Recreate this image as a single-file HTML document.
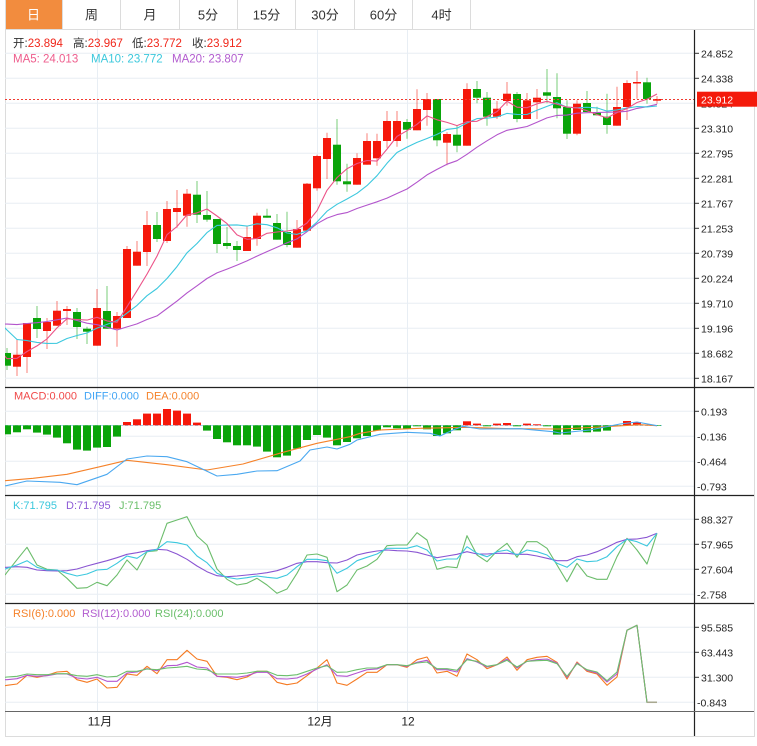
<!DOCTYPE html>
<html><head><meta charset="utf-8"><style>
html,body{margin:0;padding:0;background:#fff;}
svg{display:block;font-family:"Liberation Sans","Noto Sans CJK SC",sans-serif;}
</style></head><body>
<svg width="757" height="746" viewBox="0 0 757 746" xmlns="http://www.w3.org/2000/svg">
<defs><clipPath id="pc"><rect x="5" y="30" width="690" height="682"/></clipPath></defs>
<rect x="0" y="0" width="757" height="746" fill="#fff"/>
<!-- tabs -->
<rect x="5" y="0" width="57" height="29" fill="#f28c3e"/>
<g stroke="#dcdcdc" stroke-width="1">
<line x1="62.5" y1="0" x2="62.5" y2="29"/><line x1="120.5" y1="0" x2="120.5" y2="29"/><line x1="179.5" y1="0" x2="179.5" y2="29"/><line x1="237.5" y1="0" x2="237.5" y2="29"/><line x1="295.5" y1="0" x2="295.5" y2="29"/><line x1="354.5" y1="0" x2="354.5" y2="29"/><line x1="412.5" y1="0" x2="412.5" y2="29"/><line x1="470.5" y1="0" x2="470.5" y2="29"/>
<line x1="5" y1="29.5" x2="754" y2="29.5"/>
<line x1="5.5" y1="0" x2="5.5" y2="736"/><line x1="754.5" y1="0" x2="754.5" y2="736"/><line x1="5" y1="736.5" x2="755" y2="736.5"/>
</g>
<g font-size="13" text-anchor="middle" fill="#333">
<text x="33.5" y="19.5" fill="#fff">日</text><text x="91.5" y="19.5">周</text><text x="150" y="19.5">月</text><text x="208" y="19.5">5分</text><text x="266.5" y="19.5">15分</text><text x="325" y="19.5">30分</text><text x="383.5" y="19.5">60分</text><text x="441.5" y="19.5">4时</text>
</g>
<!-- grid -->
<g stroke="#e8eef4" stroke-width="1">
<line x1="5" y1="53.3" x2="695" y2="53.3"/><line x1="5" y1="78.3" x2="695" y2="78.3"/><line x1="5" y1="103.3" x2="695" y2="103.3"/><line x1="5" y1="128.3" x2="695" y2="128.3"/><line x1="5" y1="153.3" x2="695" y2="153.3"/><line x1="5" y1="178.3" x2="695" y2="178.3"/><line x1="5" y1="203.3" x2="695" y2="203.3"/><line x1="5" y1="228.3" x2="695" y2="228.3"/><line x1="5" y1="253.3" x2="695" y2="253.3"/><line x1="5" y1="278.3" x2="695" y2="278.3"/><line x1="5" y1="303.3" x2="695" y2="303.3"/><line x1="5" y1="328.3" x2="695" y2="328.3"/><line x1="5" y1="353.3" x2="695" y2="353.3"/><line x1="5" y1="378.3" x2="695" y2="378.3"/>
<line x1="5" y1="411.3" x2="695" y2="411.3"/><line x1="5" y1="436.3" x2="695" y2="436.3"/><line x1="5" y1="461.3" x2="695" y2="461.3"/><line x1="5" y1="486.3" x2="695" y2="486.3"/>
<line x1="5" y1="519.3" x2="695" y2="519.3"/><line x1="5" y1="544.3" x2="695" y2="544.3"/><line x1="5" y1="569.3" x2="695" y2="569.3"/><line x1="5" y1="594.3" x2="695" y2="594.3"/>
<line x1="5" y1="627.3" x2="695" y2="627.3"/><line x1="5" y1="652.3" x2="695" y2="652.3"/><line x1="5" y1="677.3" x2="695" y2="677.3"/><line x1="5" y1="702.3" x2="695" y2="702.3"/>
<line x1="97.5" y1="30" x2="97.5" y2="711"/><line x1="317.5" y1="30" x2="317.5" y2="711"/><line x1="407.5" y1="30" x2="407.5" y2="711"/>
</g>
<g clip-path="url(#pc)">
<!-- candles red -->
<g stroke="#f5180b" stroke-opacity="0.55" stroke-width="1">
<line x1="17" y1="339" x2="17" y2="376"/><line x1="27" y1="323" x2="27" y2="373"/><line x1="47" y1="318" x2="47" y2="349"/><line x1="57" y1="301" x2="57" y2="326"/><line x1="67" y1="306" x2="67" y2="325"/><line x1="97" y1="289" x2="97" y2="345.7"/><line x1="117" y1="312" x2="117" y2="346.7"/><line x1="127" y1="246" x2="127" y2="318"/><line x1="137" y1="241" x2="137" y2="265.7"/><line x1="147" y1="211" x2="147" y2="266"/><line x1="167" y1="201" x2="167" y2="243"/><line x1="177" y1="190" x2="177" y2="227.7"/><line x1="187" y1="189" x2="187" y2="226.7"/><line x1="247" y1="226" x2="247" y2="251"/><line x1="257" y1="212.7" x2="257" y2="245.7"/><line x1="297" y1="220" x2="297" y2="247.7"/><line x1="307" y1="183" x2="307" y2="230.7"/><line x1="317" y1="154.7" x2="317" y2="190.7"/><line x1="327" y1="132.7" x2="327" y2="179"/><line x1="357" y1="153.3" x2="357" y2="184.7"/><line x1="367" y1="133.3" x2="367" y2="164.7"/><line x1="377" y1="133.7" x2="377" y2="165.7"/><line x1="387" y1="111" x2="387" y2="147.7"/><line x1="397" y1="111" x2="397" y2="146.7"/><line x1="417" y1="89.3" x2="417" y2="130.3"/><line x1="427" y1="93" x2="427" y2="125.7"/><line x1="447" y1="132.3" x2="447" y2="165.3"/><line x1="467" y1="83.3" x2="467" y2="145.7"/><line x1="497" y1="101" x2="497" y2="119"/><line x1="507" y1="82" x2="507" y2="105.7"/><line x1="527" y1="93" x2="527" y2="119"/><line x1="537" y1="89" x2="537" y2="119"/><line x1="577" y1="100.3" x2="577" y2="135.3"/><line x1="617" y1="86.7" x2="617" y2="125.7"/><line x1="627" y1="80.3" x2="627" y2="120"/><line x1="637" y1="71" x2="637" y2="98.7"/><line x1="657" y1="96" x2="657" y2="103.7"/>
</g>
<g fill="#f5180b">
<rect x="13" y="354.7" width="8" height="12"/><rect x="23" y="323" width="8" height="34"/><rect x="43" y="322" width="8" height="9"/><rect x="53" y="310.7" width="8" height="15"/><rect x="63" y="309" width="8" height="2"/><rect x="93" y="308" width="8" height="37.7"/><rect x="113" y="316" width="8" height="12.7"/><rect x="123" y="249" width="8" height="69"/><rect x="133" y="251.7" width="8" height="14"/><rect x="143" y="225" width="8" height="27"/><rect x="163" y="209" width="8" height="32"/><rect x="173" y="208" width="8" height="4"/><rect x="183" y="193.7" width="8" height="22"/><rect x="243" y="237" width="8" height="14"/><rect x="253" y="215.7" width="8" height="23.3"/><rect x="293" y="229" width="8" height="18.7"/><rect x="303" y="183.7" width="8" height="47"/><rect x="313" y="156" width="8" height="32.3"/><rect x="323" y="138" width="8" height="21"/><rect x="353" y="158" width="8" height="26.7"/><rect x="363" y="141" width="8" height="23.7"/><rect x="373" y="141" width="8" height="17.3"/><rect x="383" y="121" width="8" height="20"/><rect x="393" y="121" width="8" height="20"/><rect x="413" y="109" width="8" height="21.3"/><rect x="423" y="99" width="8" height="11"/><rect x="443" y="134" width="8" height="8.7"/><rect x="463" y="89" width="8" height="56.7"/><rect x="493" y="108.7" width="8" height="8"/><rect x="503" y="93.7" width="8" height="7.3"/><rect x="523" y="100.3" width="8" height="18.7"/><rect x="533" y="97.7" width="8" height="4.6"/><rect x="573" y="103.7" width="8" height="30"/><rect x="613" y="107" width="8" height="18.7"/><rect x="623" y="83" width="8" height="24"/><rect x="633" y="82" width="8" height="1.5"/><rect x="653" y="99" width="8" height="1.7"/>
</g>
<!-- candles green -->
<g stroke="#0aa40a" stroke-opacity="0.55" stroke-width="1">
<line x1="7" y1="348" x2="7" y2="370"/><line x1="37" y1="306" x2="37" y2="338"/><line x1="77" y1="308" x2="77" y2="339"/><line x1="87" y1="326.7" x2="87" y2="344"/><line x1="107" y1="286" x2="107" y2="328.7"/><line x1="157" y1="212" x2="157" y2="242"/><line x1="197" y1="181" x2="197" y2="223"/><line x1="207" y1="191" x2="207" y2="221.7"/><line x1="217" y1="219" x2="217" y2="253"/><line x1="227" y1="227" x2="227" y2="249"/><line x1="237" y1="241" x2="237" y2="261"/><line x1="267" y1="208.7" x2="267" y2="217.7"/><line x1="277" y1="214" x2="277" y2="239.7"/><line x1="287" y1="211.7" x2="287" y2="247.3"/><line x1="337" y1="119" x2="337" y2="184.7"/><line x1="347" y1="163.7" x2="347" y2="191.7"/><line x1="407" y1="119" x2="407" y2="138.7"/><line x1="437" y1="99" x2="437" y2="146.3"/><line x1="457" y1="125.7" x2="457" y2="152.3"/><line x1="477" y1="81" x2="477" y2="103.3"/><line x1="487" y1="92" x2="487" y2="125.7"/><line x1="517" y1="92" x2="517" y2="122.3"/><line x1="547" y1="69" x2="547" y2="103.3"/><line x1="557" y1="73.3" x2="557" y2="118.3"/><line x1="567" y1="100.3" x2="567" y2="139"/><line x1="587" y1="91" x2="587" y2="112"/><line x1="597" y1="106.7" x2="597" y2="115.3"/><line x1="607" y1="93.7" x2="607" y2="133.7"/><line x1="647" y1="77.7" x2="647" y2="103.7"/>
</g>
<g fill="#0aa40a">
<rect x="3" y="353" width="8" height="12.7"/><rect x="33" y="318" width="8" height="11"/><rect x="73" y="312" width="8" height="15"/><rect x="83" y="328.7" width="8" height="3"/><rect x="103" y="311" width="8" height="17.7"/><rect x="153" y="225" width="8" height="14"/><rect x="193" y="194.7" width="8" height="20"/><rect x="203" y="215" width="8" height="4.7"/><rect x="213" y="219" width="8" height="25"/><rect x="223" y="243" width="8" height="3"/><rect x="233" y="246" width="8" height="4"/><rect x="263" y="215.7" width="8" height="2"/><rect x="273" y="223" width="8" height="16.7"/><rect x="283" y="232" width="8" height="13"/><rect x="333" y="144.7" width="8" height="36.6"/><rect x="343" y="181.3" width="8" height="3"/><rect x="403" y="122" width="8" height="7.7"/><rect x="433" y="99" width="8" height="41.3"/><rect x="453" y="134.7" width="8" height="11"/><rect x="473" y="89" width="8" height="8.7"/><rect x="483" y="97.7" width="8" height="19"/><rect x="513" y="94" width="8" height="25"/><rect x="543" y="92.3" width="8" height="3.4"/><rect x="553" y="97" width="8" height="11.3"/><rect x="563" y="107" width="8" height="26.7"/><rect x="583" y="103" width="8" height="9"/><rect x="593" y="112" width="8" height="3.3"/><rect x="603" y="116.7" width="8" height="8.3"/><rect x="643" y="82.3" width="8" height="16.7"/>
</g>
<!-- MA lines -->
<g fill="none" stroke-width="1.1" stroke-linejoin="round">
<polyline stroke="#b355cc" points="-2,324.1 7,324.1 17,324.6 27,323.5 37,322.7 47,321.5 57,319.8 67,318 77,320.5 87,323.2 97,324.7 107,327.2 117,330 127,326.9 137,323.9 147,319.5 157,315.9 167,308.5 177,301.1 187,292.9 197,285.8 207,278.5 217,272.9 227,269.1 237,265.1 247,260.9 257,256.1 267,251.6 277,247.2 287,242.9 297,238.9 307,231.7 317,223.7 327,218.1 337,214.6 347,212.6 357,208.5 367,205.1 377,201.8 387,198.1 397,193.5 407,189 417,182.2 427,174.9 437,169.4 447,164.2 457,160.7 467,154.3 477,147.2 487,140.8 497,134.8 507,130.3 517,128.4 527,126.5 537,122.3 547,117.9 557,115.4 567,115.1 577,113.2 587,112.7 597,112.5 607,112.2 617,112.1 627,111.3 637,108.4 647,106.7 657,104.3"/>
<polyline stroke="#3cc8de" points="-2,321.2 7,330 17,339.5 27,340.6 37,342.4 47,343.4 57,343.3 67,338.5 77,335.5 87,333 97,328.1 107,324.4 117,320.5 127,313.1 137,305.4 147,295.7 157,288.5 167,278.5 177,266.6 187,252.8 197,243.5 207,232.6 217,225.4 227,225.1 237,224.9 247,226.1 257,223.8 267,224.7 277,227.8 287,233 297,234.4 307,230.8 317,222 327,211.2 337,204.3 347,199 357,193.3 367,185.6 377,175.7 387,163.3 397,152.5 407,147.1 417,142.4 427,138.5 437,134.4 447,129.4 457,128.2 467,123 477,118.6 487,118.2 497,117 507,113.4 517,114.4 527,114.5 537,110.3 547,106.4 557,102.7 567,107.2 577,107.8 587,107.3 597,107.9 607,111.1 617,109.9 627,108.1 637,106.6 647,106.9 657,106"/>
<polyline stroke="#ec5388" points="-2,347.9 7,358.7 17,358.3 27,351.5 37,345.9 47,338.9 57,327.9 67,318.7 77,319.5 87,320.1 97,317.3 107,320.9 117,322.3 127,306.7 137,290.7 147,274.1 157,256.1 167,234.7 177,226.5 187,214.9 197,212.9 207,209 217,216 227,223.6 237,234.9 247,239.3 257,238.5 267,233.3 277,232 287,231 297,229.4 307,223 317,210.7 327,190.3 337,177.6 347,168.7 357,163.5 367,160.5 377,161.1 387,149.1 397,136.4 407,130.7 417,124.3 427,115.9 437,119.8 447,122.4 457,125.6 467,121.6 477,121.3 487,116.6 497,111.6 507,101.2 517,107.2 527,107.7 537,103.9 547,101.3 557,104.2 567,107.1 577,107.8 587,110.7 597,114.6 607,117.9 617,112.6 627,108.5 637,102.5 647,99.2 657,94"/>
</g>
<line x1="5" y1="99.5" x2="695" y2="99.5" stroke="#f03a30" stroke-width="1" stroke-dasharray="2,2"/>
<!-- MACD -->
<line x1="5" y1="425.5" x2="662" y2="425.5" stroke="#9fd3f0" stroke-width="1" stroke-dasharray="3,2"/>
<g fill="#0aa40a">
<rect x="3" y="425.3" width="8" height="9"/><rect x="13" y="425.3" width="8" height="7"/><rect x="23" y="425.3" width="8" height="4"/><rect x="33" y="425.3" width="8" height="7.3"/><rect x="43" y="425.3" width="8" height="9.3"/><rect x="53" y="425.3" width="8" height="12.3"/><rect x="63" y="425.3" width="8" height="18"/><rect x="73" y="425.3" width="8" height="24.3"/><rect x="83" y="425.3" width="8" height="25.3"/><rect x="93" y="425.3" width="8" height="22.3"/><rect x="103" y="425.3" width="8" height="21.7"/><rect x="113" y="425.3" width="8" height="11.3"/><rect x="203" y="425.3" width="8" height="5.3"/><rect x="213" y="425.3" width="8" height="13.7"/><rect x="223" y="425.3" width="8" height="17"/><rect x="233" y="425.3" width="8" height="20"/><rect x="243" y="425.3" width="8" height="20"/><rect x="253" y="425.3" width="8" height="21.3"/><rect x="263" y="425.3" width="8" height="26.3"/><rect x="273" y="425.3" width="8" height="32"/><rect x="283" y="425.3" width="8" height="30.3"/><rect x="293" y="425.3" width="8" height="23.3"/><rect x="303" y="425.3" width="8" height="14.7"/><rect x="313" y="425.3" width="8" height="9.7"/><rect x="323" y="425.3" width="8" height="12.3"/><rect x="333" y="425.3" width="8" height="20"/><rect x="343" y="425.3" width="8" height="16.7"/><rect x="353" y="425.3" width="8" height="13"/><rect x="363" y="425.3" width="8" height="10.7"/><rect x="373" y="425.3" width="8" height="5.3"/><rect x="383" y="425.3" width="8" height="2"/><rect x="393" y="425.3" width="8" height="3"/><rect x="403" y="425.3" width="8" height="3.3"/><rect x="413" y="425.3" width="8" height="1"/><rect x="423" y="425.3" width="8" height="4"/><rect x="433" y="425.3" width="8" height="10.7"/><rect x="443" y="425.3" width="8" height="8"/><rect x="453" y="425.3" width="8" height="5"/><rect x="483" y="425.3" width="8" height="1"/><rect x="513" y="425.3" width="8" height="1"/><rect x="543" y="425.3" width="8" height="1"/><rect x="553" y="425.3" width="8" height="9.3"/><rect x="563" y="425.3" width="8" height="9.3"/><rect x="573" y="425.3" width="8" height="4.7"/><rect x="583" y="425.3" width="8" height="7"/><rect x="593" y="425.3" width="8" height="6.3"/><rect x="603" y="425.3" width="8" height="5.3"/><rect x="613" y="425.3" width="8" height="0.8"/><rect x="653" y="425.3" width="8" height="0.6"/>
</g>
<g fill="#f5180b">
<rect x="123" y="422" width="8" height="3.3"/><rect x="133" y="419.3" width="8" height="6"/><rect x="143" y="413.6" width="8" height="11.7"/><rect x="153" y="413.6" width="8" height="11.7"/><rect x="163" y="409" width="8" height="16.3"/><rect x="173" y="410.6" width="8" height="14.7"/><rect x="183" y="413.6" width="8" height="11.7"/><rect x="193" y="422.6" width="8" height="2.7"/><rect x="463" y="421.3" width="8" height="4"/><rect x="473" y="423.6" width="8" height="1.7"/><rect x="493" y="423.6" width="8" height="1.7"/><rect x="503" y="423" width="8" height="2.3"/><rect x="523" y="423.6" width="8" height="1.7"/><rect x="533" y="424.3" width="8" height="1"/><rect x="623" y="421" width="8" height="4.3"/><rect x="633" y="422" width="8" height="3.3"/><rect x="643" y="424.6" width="8" height="0.7"/>
</g>
<g fill="none" stroke-width="1.1" stroke-linejoin="round">
<polyline stroke="#f5822a" points="5,480.7 33,478.3 67,474.3 100,466.7 127,460.3 167,464.7 207,470 243,464 283,452.3 317,443.3 350,436.7 360,433.3 380,430 420,428.3 467,427.3 510,428.7 560,429 600,427 640,424.7 657,425.7"/>
<polyline stroke="#4aa8f0" points="5,486 27,481 60,482.3 77,484.7 107,474.3 127,459 147,456 167,456.7 187,461.7 217,476 237,474.3 257,471 277,470.7 300,461 310,450 327,447 337,449 350,444.3 357,440 380,434.3 407,432.3 430,433.3 440,436 453,430 463,426.3 480,429 520,428.7 553,431.7 560,433 590,430 620,424 637,422 657,425.7"/>
</g>
<!-- KDJ -->
<g fill="none" stroke-width="1.1" stroke-linejoin="round">
<polyline stroke="#6cbd6c" points="5,575 7,572.3 17,559.7 27,547.3 37,565 47,569.3 57,570 67,578.3 77,588.3 87,587.7 97,582.3 107,585.7 117,575 127,560 137,570 147,551.7 157,550.7 167,523.3 177,520 187,516.7 197,536 207,545 217,569 227,579.3 237,585 247,583.3 257,578.3 267,585 277,593.3 287,589 297,573.3 307,555 317,554 327,557.3 337,591.7 347,585 357,570 367,566 377,559.3 387,545.7 397,545 407,545 417,532.7 427,540 437,569.3 447,566.7 457,567.7 467,535.7 477,555 487,561.7 497,551 507,543.3 517,557.3 527,541.7 537,541.7 547,548.3 557,565 567,581.7 577,563.3 587,576 597,579.3 607,579.3 617,556.7 627,538.3 637,550 647,564 657,533.3"/>
<polyline stroke="#8a55d2" points="5,567.3 7,567.3 17,566.7 27,567.3 37,570 47,570.7 57,571 67,570.7 77,569 87,566 97,563.3 107,560.7 117,557.7 127,554.3 137,552.7 147,550.7 157,549.3 167,550 177,554 187,559.3 197,566 207,571.7 217,575.7 227,576.7 237,576 247,575 257,574 267,572.7 277,570.7 287,567.3 297,563.3 307,561.7 317,561.7 327,562.7 337,563 347,560 357,555 367,552.7 377,551 387,550 397,550.7 407,551 417,552.3 427,555 437,557.7 447,556 457,554.3 467,551.7 477,554 487,554 497,553.3 507,553.3 517,554.3 527,554.3 537,556 547,558.3 557,560.7 567,560.7 577,556.7 587,555 597,551.7 607,547.3 617,542.3 627,539.3 637,539 647,537.3 657,533.3"/>
<polyline stroke="#3cc8de" points="5,569.3 7,568.3 17,565 27,560.7 37,567.3 47,570 57,570 67,573.3 77,576 87,574 97,570 107,569.3 117,563.3 127,556 137,558.3 147,551.7 157,549.3 167,541.7 177,542.7 187,545 197,556 207,562.7 217,573.3 227,577.3 237,579 247,577.7 257,576 267,577.3 277,578.3 287,575 297,566.7 307,559.3 317,559.3 327,560.7 337,573.3 347,568.3 357,560.7 367,557.3 377,554 387,548.3 397,548.3 407,548.3 417,545.7 427,550 437,561 447,559 457,559 467,546.7 477,553.3 487,556.7 497,551.7 507,550 517,555 527,550 537,551.7 547,555 557,563.3 567,567.3 577,559 587,561.7 597,561 607,556.7 617,546.7 627,539.3 637,541.7 647,546 657,533.3"/>
</g>
<!-- RSI -->
<g fill="none" stroke-width="1.1" stroke-linejoin="round">
<polyline stroke="#f57a22" points="5,685.7 7,685.3 17,684 27,675.3 37,677.3 47,675.3 57,672 67,671.3 77,679.7 87,682.3 97,679 107,688 117,687.3 127,674 137,675.3 147,666.3 157,673.7 167,659.7 177,659.7 187,650.3 197,659 207,661.3 217,676.3 227,677.3 237,679.7 247,677 257,671.3 267,671.3 277,682.3 287,684.7 297,683 307,675.7 317,668 327,659.7 337,683 347,685.3 357,679 367,672.3 377,672.3 387,664.7 397,664.7 407,667.3 417,659.7 427,657 437,673 447,671.3 457,676.3 467,654 477,659.7 487,668.7 497,664.7 507,657 517,670.3 527,659.7 537,657.3 547,656.3 557,662.3 567,679 577,662 587,671.3 597,674 607,685.3 617,677 627,630.3 637,625.3 647,702.3 657,702.3"/>
<polyline stroke="#b456d0" points="5,679.7 7,679.7 17,678.7 27,675.3 37,676.3 47,675.7 57,674 67,674 77,678 87,679 97,677.3 107,681.3 117,681.3 127,673 137,672 147,668.7 157,670.7 167,665.7 177,665.3 187,662.3 197,667 207,668 217,676.3 227,676.7 237,677.3 247,675.7 257,672.3 267,672.3 277,678.7 287,679 297,678 307,674 317,669 327,664.7 337,675.7 347,676.3 357,673 367,669.7 377,669 387,664.7 397,664.7 407,666.3 417,662.3 427,660.3 437,669.7 447,669.7 457,672 467,658.7 477,662 487,667 497,664.7 507,659 517,668 527,661.3 537,659.7 547,659 557,663 567,677.3 577,663 587,670.3 597,673 607,682 617,674 627,630.3 637,625.3 647,702.3 657,702.3"/>
<polyline stroke="#6cbf6c" points="5,677.3 7,677 17,676.3 27,674 37,674.7 47,674.7 57,673.7 67,673.7 77,675.7 87,676.3 97,674.7 107,677 117,676.3 127,671.3 137,671.3 147,669 157,669.7 167,668 177,667.3 187,666.3 197,669 207,669.7 217,674 227,674 237,674 247,673 257,671.3 267,671.3 277,675.3 287,675.7 297,674.7 307,671.3 317,668 327,665.7 337,672.3 347,672 357,669.7 367,668 377,668 387,664.7 397,664.7 407,665.7 417,663 427,662 437,668.7 447,668.7 457,670.3 467,659.7 477,661.3 487,666.3 497,664.7 507,660.3 517,667 527,661.3 537,660.7 547,660.3 557,663.7 567,676.3 577,663.7 587,669.7 597,672 607,680.7 617,672 627,630.3 637,625.3 647,702.3 657,702.3"/>
<line x1="647" y1="702.3" x2="657" y2="702.3" stroke="#a8a890" stroke-width="1.5"/>
</g>
</g>
<!-- panel borders -->
<g stroke="#222" stroke-width="1.2">
<line x1="5" y1="387.5" x2="754" y2="387.5"/><line x1="5" y1="495.5" x2="754" y2="495.5"/><line x1="5" y1="603.5" x2="754" y2="603.5"/>
<line x1="694.5" y1="30" x2="694.5" y2="736"/>
</g>
<line x1="5" y1="711.5" x2="754" y2="711.5" stroke="#666" stroke-width="1"/>
<!-- axis ticks -->
<g stroke="#333" stroke-width="1">
<line x1="695" y1="53.3" x2="699" y2="53.3"/><line x1="695" y1="78.3" x2="699" y2="78.3"/><line x1="695" y1="128.3" x2="699" y2="128.3"/><line x1="695" y1="153.3" x2="699" y2="153.3"/><line x1="695" y1="178.3" x2="699" y2="178.3"/><line x1="695" y1="203.3" x2="699" y2="203.3"/><line x1="695" y1="228.3" x2="699" y2="228.3"/><line x1="695" y1="253.3" x2="699" y2="253.3"/><line x1="695" y1="278.3" x2="699" y2="278.3"/><line x1="695" y1="303.3" x2="699" y2="303.3"/><line x1="695" y1="328.3" x2="699" y2="328.3"/><line x1="695" y1="353.3" x2="699" y2="353.3"/><line x1="695" y1="378.3" x2="699" y2="378.3"/>
<line x1="695" y1="411.3" x2="699" y2="411.3"/><line x1="695" y1="519.3" x2="699" y2="519.3"/><line x1="695" y1="544.3" x2="699" y2="544.3"/><line x1="695" y1="569.3" x2="699" y2="569.3"/><line x1="695" y1="627.3" x2="699" y2="627.3"/><line x1="695" y1="652.3" x2="699" y2="652.3"/><line x1="695" y1="677.3" x2="699" y2="677.3"/>
</g>
<g font-size="10.5" fill="#222">
<text x="701" y="57.3">24.852</text><text x="701" y="82.3">24.338</text><text x="701" y="107.3">23.824</text><text x="701" y="132.3">23.310</text><text x="701" y="157.3">22.795</text><text x="701" y="182.3">22.281</text><text x="701" y="207.3">21.767</text><text x="701" y="232.3">21.253</text><text x="701" y="257.3">20.739</text><text x="701" y="282.3">20.224</text><text x="701" y="307.3">19.710</text><text x="701" y="332.3">19.196</text><text x="701" y="357.3">18.682</text><text x="701" y="382.3">18.167</text>
<text x="701" y="415.3">0.193</text><text x="697" y="440.3">-0.136</text><text x="697" y="465.3">-0.464</text><text x="697" y="490.3">-0.793</text>
<text x="701" y="523.3">88.327</text><text x="701" y="548.3">57.965</text><text x="701" y="573.3">27.604</text><text x="697" y="598.3">-2.758</text>
<text x="701" y="631.3">95.585</text><text x="701" y="656.3">63.443</text><text x="701" y="681.3">31.300</text><text x="697" y="706.3">-0.843</text>
</g>
<rect x="697" y="91.7" width="60" height="15" fill="#f41a0b"/>
<text x="701" y="103.3" font-size="10.5" fill="#fff">23.912</text>
<!-- x labels -->
<g font-size="12" fill="#222" text-anchor="middle">
<text x="100" y="725.5">11月</text><text x="320" y="725.5">12月</text><text x="408" y="725.5">12</text>
</g>
<!-- legends -->
<g font-size="11.5">
<text x="13" y="46.8"><tspan fill="#333">开:</tspan><tspan fill="#f0261a">23.894</tspan></text>
<text x="73" y="46.8"><tspan fill="#333">高:</tspan><tspan fill="#f0261a">23.967</tspan></text>
<text x="132" y="46.8"><tspan fill="#333">低:</tspan><tspan fill="#f0261a">23.772</tspan></text>
<text x="192" y="46.8"><tspan fill="#333">收:</tspan><tspan fill="#f0261a">23.912</tspan></text>
<text x="13" y="62.4" fill="#ee5c8c">MA5: 24.013</text>
<text x="91" y="62.4" fill="#3bc8dc">MA10: 23.772</text>
<text x="172" y="62.4" fill="#b25ccf">MA20: 23.807</text>
</g>
<g font-size="11">
<text x="14" y="399.7" fill="#f04848">MACD:0.000</text>
<text x="84" y="399.7" fill="#42a5f5">DIFF:0.000</text>
<text x="146" y="399.7" fill="#f5822a">DEA:0.000</text>
<text x="13" y="509" fill="#3ac7dc">K:71.795</text>
<text x="66" y="509" fill="#8c5ad6">D:71.795</text>
<text x="119" y="509" fill="#6abf6a">J:71.795</text>
<text x="13" y="617" fill="#f5822a">RSI(6):0.000</text>
<text x="82" y="617" fill="#b25ccf">RSI(12):0.000</text>
<text x="155" y="617" fill="#6abf6a">RSI(24):0.000</text>
</g>
</svg>
</body></html>
